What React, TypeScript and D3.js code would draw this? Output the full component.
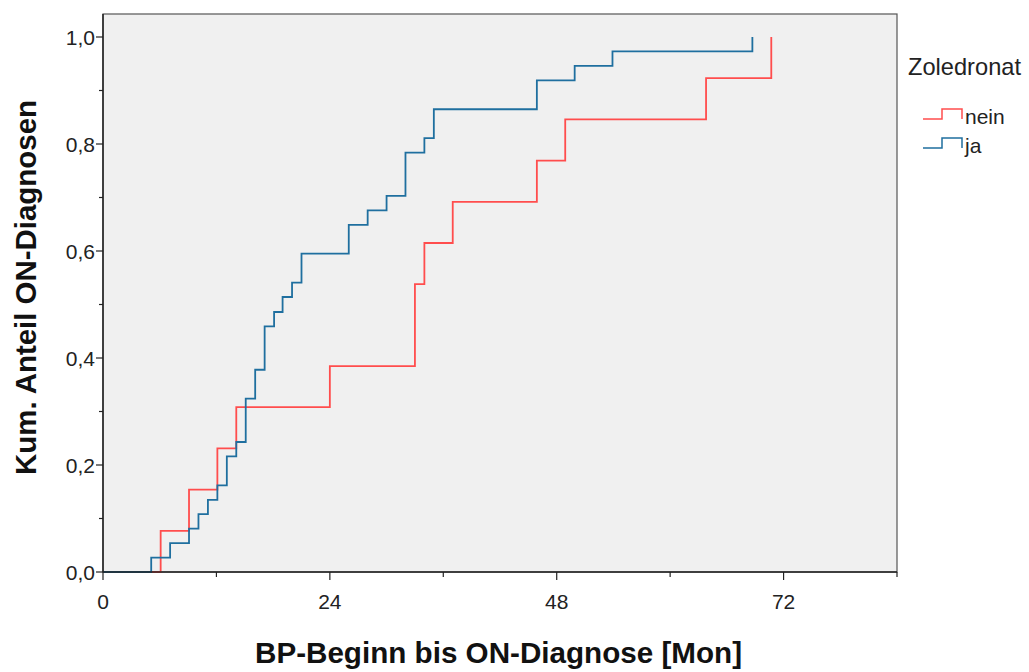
import React from "react";
import * as d3 from "d3";

const neinTimes = [6.1, 9.1, 12.1, 14.1, 24.0, 33.0, 34.0, 37.0, 45.9, 48.9, 63.8, 70.7];
const neinValues = [0.077, 0.154, 0.231, 0.308, 0.385, 0.538, 0.615, 0.692, 0.769, 0.846, 0.923, 1.0];
const jaTimes = [5.1, 7.1, 9.1, 10.1, 11.1, 12.1, 13.1, 14.1, 15.1, 16.1, 17.1, 18.1, 19.0, 20.0, 21.0, 26.0, 28.0, 30.0, 32.0, 34.0, 35.0, 45.9, 49.9, 53.9, 68.7];
const jaValues = [0.027, 0.054, 0.081, 0.108, 0.135, 0.162, 0.216, 0.243, 0.324, 0.378, 0.459, 0.486, 0.514, 0.541, 0.595, 0.649, 0.676, 0.703, 0.784, 0.811, 0.865, 0.919, 0.946, 0.973, 1.0];
const xMajorTicks = [0, 24, 48, 72];
const xMinorTicks = [12, 36, 60, 84];
const yMajorTicks = [0, 0.2, 0.4, 0.6, 0.8, 1.0];
const yMinorTicks = [0.1, 0.3, 0.5, 0.7, 0.9];
const seriesNames = ["nein", "ja"];
const seriesColors = ["#ff4d4d", "#1f6f9f"];
const legendTitle = "Zoledronat";
const xTitle = "BP-Beginn bis ON-Diagnose [Mon]";
const yTitle = "Kum. Anteil ON-Diagnosen";

const W = 1029, H = 672;
const L = 103, R = 897, T = 14, B = 572;

function stepPath(times: number[], values: number[], x: d3.ScaleLinear<number, number>, y: d3.ScaleLinear<number, number>) {
  const pts: [number, number][] = [[0, 0]];
  let prev = 0;
  times.forEach((t, i) => {
    pts.push([t, prev]);
    pts.push([t, values[i]]);
    prev = values[i];
  });
  const line = d3.line<[number, number]>().x(d => x(d[0])).y(d => y(d[1]));
  return line(pts) || "";
}

export default function App() {
  const x = d3.scaleLinear().domain([0, 84]).range([L, R]);
  const y = d3.scaleLinear().domain([0, 1]).range([B, 37]);
  const fmt = (v: number) => v.toFixed(1).replace(".", ",");
  const font = "'Liberation Sans', Arial, sans-serif";
  return (
    <svg width={W} height={H} style={{ position: "absolute", left: 0, top: 0 }} fontFamily={font}>
      <rect x={0} y={0} width={W} height={H} fill="#ffffff" />
      <rect x={L} y={T} width={R - L} height={B - T} fill="#f0f0f0" stroke="#555" strokeWidth={1.2} />
      <path d={stepPath(neinTimes, neinValues, x, y)} fill="none" stroke={seriesColors[0]} strokeWidth={1.8} />
      <path d={stepPath(jaTimes, jaValues, x, y)} fill="none" stroke={seriesColors[1]} strokeWidth={1.8} />
      <line x1={L} x2={L} y1={T} y2={B} stroke="#222" strokeWidth={1.5} />
      <line x1={L} x2={R} y1={B} y2={B} stroke="#222" strokeWidth={1.5} />
      {yMajorTicks.map(v => (
        <g key={"ym" + v}>
          <line x1={L - 7} x2={L} y1={y(v)} y2={y(v)} stroke="#222" strokeWidth={1.2} />
          <text x={L - 8} y={y(v) + 7.5} textAnchor="end" fontSize={21} fill="#222">{fmt(v)}</text>
        </g>
      ))}
      {yMinorTicks.map(v => (
        <line key={"yn" + v} x1={L - 4} x2={L} y1={y(v)} y2={y(v)} stroke="#222" strokeWidth={1.2} />
      ))}
      {xMajorTicks.map(v => (
        <g key={"xm" + v}>
          <line x1={x(v)} x2={x(v)} y1={B} y2={B + 8} stroke="#222" strokeWidth={1.2} />
          <text x={x(v)} y={B + 37} textAnchor="middle" fontSize={21} fill="#222">{v}</text>
        </g>
      ))}
      {xMinorTicks.map(v => (
        <line key={"xn" + v} x1={x(v)} x2={x(v)} y1={B} y2={B + 5} stroke="#222" strokeWidth={1.2} />
      ))}
      <text x={255} y={663} fontSize={30} fontWeight="bold" fill="#111" textLength={487} lengthAdjust="spacingAndGlyphs">{xTitle}</text>
      <text transform={`translate(36, 475) rotate(-90)`} fontSize={30} fontWeight="bold" fill="#111" textLength={375} lengthAdjust="spacingAndGlyphs">{yTitle}</text>
      <text x={908} y={75} fontSize={24} fill="#222" textLength={113} lengthAdjust="spacingAndGlyphs">{legendTitle}</text>
      {seriesNames.map((n, i) => {
        const ly = 119 + i * 29;
        return (
          <g key={n}>
            <path d={`M923,${ly} H942 V${ly - 10} H962 V${ly}`} fill="none" stroke={seriesColors[i]} strokeWidth={1.5} />
            <text x={965} y={ly + 5} fontSize={21} fill="#222">{n}</text>
          </g>
        );
      })}
    </svg>
  );
}
